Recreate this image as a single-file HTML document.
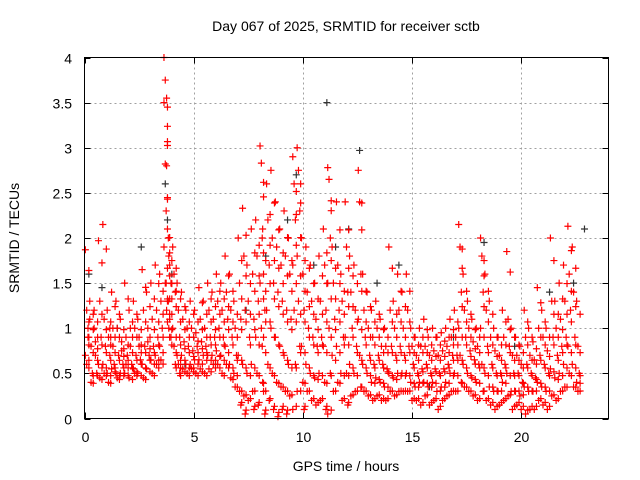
<!DOCTYPE html>
<html><head><meta charset="utf-8"><style>
html,body{margin:0;padding:0;background:#fff;}
svg{display:block;font-family:"Liberation Sans",sans-serif;}
</style></head><body>
<svg id="chart" width="640" height="480">
<text x="346" y="31" font-size="14" text-anchor="middle">Day 067 of 2025, SRMTID for receiver sctb</text>
<text x="346" y="471" font-size="14" text-anchor="middle">GPS time / hours</text>
<text transform="translate(19,238) rotate(-90)" font-size="14" text-anchor="middle">SRMTID / TECUs</text>
<g id="grid"></g>
<g id="ticks"></g>
<g id="black"></g>
<g id="red"></g>
<rect x="84.5" y="57.5" width="524" height="361" fill="none" stroke="#000" stroke-width="1"/>
</svg>
<script>
const xTicks=[0,5,10,15,20];
const yTicks=[0,0.5,1,1.5,2,2.5,3,3.5,4];
const yTickLabels=["0","0.5","1","1.5","2","2.5","3","3.5","4"];
const redHours=[0.1,0.3,0.5,0.7,0.9,1.1,1.3,1.5,1.7,1.9,2.1,2.3,2.5,2.7,2.9,3.1,3.3,3.5,3.7,3.8,3.9,4.1,4.3,4.5,4.7,4.9,5.1,5.3,5.5,5.7,5.9,6.1,6.3,6.5,6.7,6.9,7.1,7.3,7.5,7.7,7.9,8.1,8.2,8.4,8.6,8.8,9.0,9.2,9.4,9.6,9.8,10.0,10.2,10.4,10.6,10.8,11.0,11.2,11.4,11.6,11.8,12.0,12.2,12.4,12.6,12.8,13.0,13.2,13.4,13.6,13.8,14.0,14.2,14.4,14.6,14.8,15.0,15.2,15.4,15.6,15.8,16.0,16.2,16.4,16.6,16.8,17.0,17.2,17.4,17.6,17.8,18.0,18.2,18.4,18.6,18.8,19.0,19.2,19.4,19.6,19.8,20.0,20.2,20.4,20.6,20.8,21.0,21.2,21.4,21.6,21.8,22.0,22.2,22.4,22.6,22.8];
const redValues=[
[1.87,1.2,0.9,0.7,0.6,1.0],[1.3,0.8,0.5,1.1,0.4],[1.0,0.7,0.5,1.2,0.85],[1.97,1.3,0.9,0.6,0.45],[2.15,1.1,0.8,0.6,0.5],
[1.2,0.9,0.7,0.5,0.4,1.0],[1.4,0.8,0.6,0.55,1.0],[1.3,1.0,0.7,0.5,0.45],[1.1,0.85,0.6,0.5,0.75],[1.5,0.9,0.7,0.5,0.6],
[1.2,0.8,0.6,0.45,1.0],[1.3,1.0,0.7,0.55,0.5],[1.1,0.8,0.65,0.5,0.9],[1.65,1.2,0.8,0.6,0.45],[1.4,1.0,0.7,0.55,0.85],
[1.5,1.1,0.8,0.65,0.5],[1.7,1.2,0.9,0.7,0.6],[1.6,1.3,1.0,0.8,0.65],[4.0,3.75,3.55,3.5,2.82,2.8,1.9,1.5,1.2],[2.3,2.1,1.8,1.5,1.3,1.0],
[2.0,1.7,1.5,1.3,1.1,0.9],[1.9,1.6,1.4,1.0,0.8,0.6],[1.5,1.2,0.9,0.7,0.6,0.5],[1.4,1.1,0.85,0.7,0.55],[1.2,1.0,0.8,0.6,0.5],
[1.3,1.0,0.75,0.6,0.55],[1.2,0.95,0.8,0.65,0.5],[1.45,1.1,0.85,0.65,0.55],[1.3,1.0,0.8,0.7,0.5],[1.5,1.2,0.9,0.7,0.55],
[1.4,1.1,0.9,0.7,0.6],[1.6,1.3,1.0,0.75,0.6],[1.5,1.2,0.9,0.7,0.5],[1.8,1.4,1.1,0.8,0.6],[1.6,1.2,0.9,0.6,0.45],
[1.3,1.0,0.7,0.5,0.35],[2.0,1.5,1.1,0.7,0.3,0.15],[2.33,1.8,1.2,0.6,0.25,0.05],[1.7,1.3,0.9,0.5,0.2],[2.1,1.6,1.1,0.6,0.3,0.1],
[2.2,1.8,1.3,0.9,0.5,0.15],[3.02,2.83,2.1,1.5,1.0,0.4],[2.0,1.6,1.2,0.8,0.3,0.05],[2.6,2.2,1.7,1.2,0.6,0.2],[2.75,2.0,1.5,1.0,0.5,0.1],
[2.4,1.9,1.4,0.9,0.4,0.02],[2.1,1.7,1.3,0.8,0.35,0.1],[2.3,1.8,1.2,0.7,0.3,0.05],[2.0,1.6,1.1,0.6,0.25],[2.9,2.6,2.2,1.7,1.2,0.6,0.1],
[3.0,2.75,2.3,1.8,1.3,0.8,0.3],[2.0,1.6,1.2,0.8,0.4,0.1],[1.9,1.4,1.0,0.6,0.3],[1.7,1.3,0.9,0.5,0.2],[1.5,1.1,0.8,0.45,0.15],
[1.8,1.3,0.9,0.5,0.2],[2.1,1.7,1.2,0.8,0.4,0.1],[2.78,2.65,2.0,1.5,1.0,0.5,0.05],[1.9,1.5,1.1,0.7,0.3],[2.4,1.7,1.2,0.8,0.4],
[1.6,1.3,0.9,0.5,0.2],[2.4,1.9,1.4,0.9,0.5,0.15],[1.8,1.4,1.0,0.6,0.25],[1.7,1.2,0.8,0.5,0.3],[2.75,2.4,1.6,1.1,0.7,0.35],
[1.6,1.2,0.9,0.6,0.3],[1.4,1.0,0.7,0.5,0.25],[1.2,0.9,0.6,0.4,0.2],[1.3,1.0,0.7,0.45,0.25],[1.1,0.8,0.6,0.4,0.2],
[1.0,0.8,0.55,0.35,0.2],[1.9,1.2,0.8,0.5,0.3],[1.3,1.0,0.7,0.45,0.25],[1.6,1.2,0.8,0.5,0.3],[1.4,1.0,0.7,0.5,0.3],
[1.6,1.2,0.8,0.5,0.3],[1.0,0.8,0.6,0.4,0.2],[0.9,0.7,0.5,0.35,0.2],[1.0,0.8,0.55,0.4,0.15],[1.1,0.8,0.6,0.4,0.25],
[0.9,0.7,0.5,0.35,0.15],[1.0,0.75,0.55,0.4,0.2],[0.9,0.7,0.5,0.3,0.1],[0.95,0.75,0.55,0.35,0.2],[1.0,0.8,0.6,0.4,0.25],
[1.1,0.9,0.7,0.5,0.3],[1.2,0.9,0.7,0.5,0.3],[2.15,1.9,1.4,1.0,0.7,0.4],[1.6,1.2,0.9,0.6,0.35],[1.3,1.0,0.75,0.5,0.3],
[1.1,0.85,0.65,0.45,0.25],[1.0,0.8,0.6,0.4,0.2],[2.0,1.8,1.4,1.0,0.6,0.3],[1.6,1.2,0.8,0.5,0.2],[1.3,0.9,0.6,0.35,0.15],
[1.0,0.75,0.5,0.3,0.1],[0.9,0.7,0.5,0.3,0.15],[1.2,0.9,0.6,0.4,0.2],[1.85,1.1,0.8,0.5,0.25],[1.0,0.7,0.5,0.3,0.1],
[0.9,0.7,0.5,0.3,0.15],[0.8,0.6,0.4,0.25,0.1],[1.2,0.9,0.6,0.35,0.05],[1.0,0.7,0.5,0.3,0.1],[0.85,0.65,0.45,0.3,0.1],
[1.45,1.0,0.7,0.4,0.2],[1.2,0.9,0.6,0.35,0.15],[1.0,0.75,0.5,0.3,0.1],[2.0,1.3,0.9,0.55,0.25],[1.3,1.0,0.7,0.45,0.2],
[1.5,1.1,0.8,0.5,0.3],[1.7,1.3,0.9,0.6,0.35],[2.13,1.6,1.2,0.8,0.5],[1.9,1.4,0.9,0.6,0.35],[1.3,0.8,0.5,0.4,0.3]];
const blackHours=[0.2,0.8,1.5,2.6,3.7,3.8,4.0,4.6,6.0,7.4,8.3,9.3,9.7,10.5,11.1,11.5,12.1,12.6,13.4,14.4,15.8,16.9,18.3,19.7,21.3,22.4,22.9];
const blackValues=[1.6,1.45,1.0,1.9,2.6,2.2,1.6,0.6,0.6,1.2,1.8,2.2,2.7,1.7,3.5,1.9,2.1,2.97,1.5,1.7,0.35,0.9,1.95,0.8,1.4,1.5,2.1];

const X0=84.5,X1=608.5,Y0=418.5,Y1=57.5;
const sx=h=>X0+(h-0)/24*(X1-X0);
const sy=v=>Y0-(v-0)/4*(Y0-Y1);
const NS="http://www.w3.org/2000/svg";
const grid=document.getElementById('grid'),ticks=document.getElementById('ticks');
function ln(p,x1,y1,x2,y2,st,dash){const l=document.createElementNS(NS,'line');l.setAttribute('x1',x1);l.setAttribute('y1',y1);l.setAttribute('x2',x2);l.setAttribute('y2',y2);l.setAttribute('stroke',st);if(dash)l.setAttribute('stroke-dasharray',dash);p.appendChild(l);return l;}
function tx(p,x,y,s,a){const t=document.createElementNS(NS,'text');t.setAttribute('x',x);t.setAttribute('y',y);t.setAttribute('font-size','14');t.setAttribute('text-anchor',a);t.textContent=s;p.appendChild(t);return t;}
xTicks.forEach(v=>{const x=Math.round(sx(v))+0.5;
 if(v>0){const g=ln(grid,x,Y1,x,Y0,'#a0a0a0','2,3');

}
 ln(ticks,x,Y0,x,Y0-6,'#000');ln(ticks,x,Y1,x,Y1+6,'#000');
 const t=tx(ticks,x,442,String(v),'middle');

});
yTicks.forEach((v,i)=>{const y=Math.round(sy(v))+0.5;
 if(v>0&&v<4){const g=ln(grid,X0,y,X1,y,'#a0a0a0','2,3');

}
 ln(ticks,X0,y,X0+6,y,'#000');ln(ticks,X1,y,X1-6,y,'#000');
 const t=tx(ticks,72,y+5,yTickLabels[i],'end');

});
function plus(g,h,v,c){const x=sx(h),y=sy(v);const p=document.createElementNS(NS,'path');
p.setAttribute('d',`M${x-3.5},${y}H${x+3.5}M${x},${y-3.5}V${y+3.5}`);p.setAttribute('stroke',c);p.setAttribute('stroke-width','1.2');


g.appendChild(p);}
const bg=document.getElementById('black'),rg=document.getElementById('red');
blackHours.forEach((h,i)=>plus(bg,h,blackValues[i],'#333'));
redHours.forEach((h,i)=>{const vals=redValues[i]||[];vals.forEach((v,j)=>{
 plus(rg,h+(j%3-1)*0.06,v,'#ff0000');
 plus(rg,h+0.1,v*0.85+0.05,'#ff0000');
});});
</script>
</body></html>
